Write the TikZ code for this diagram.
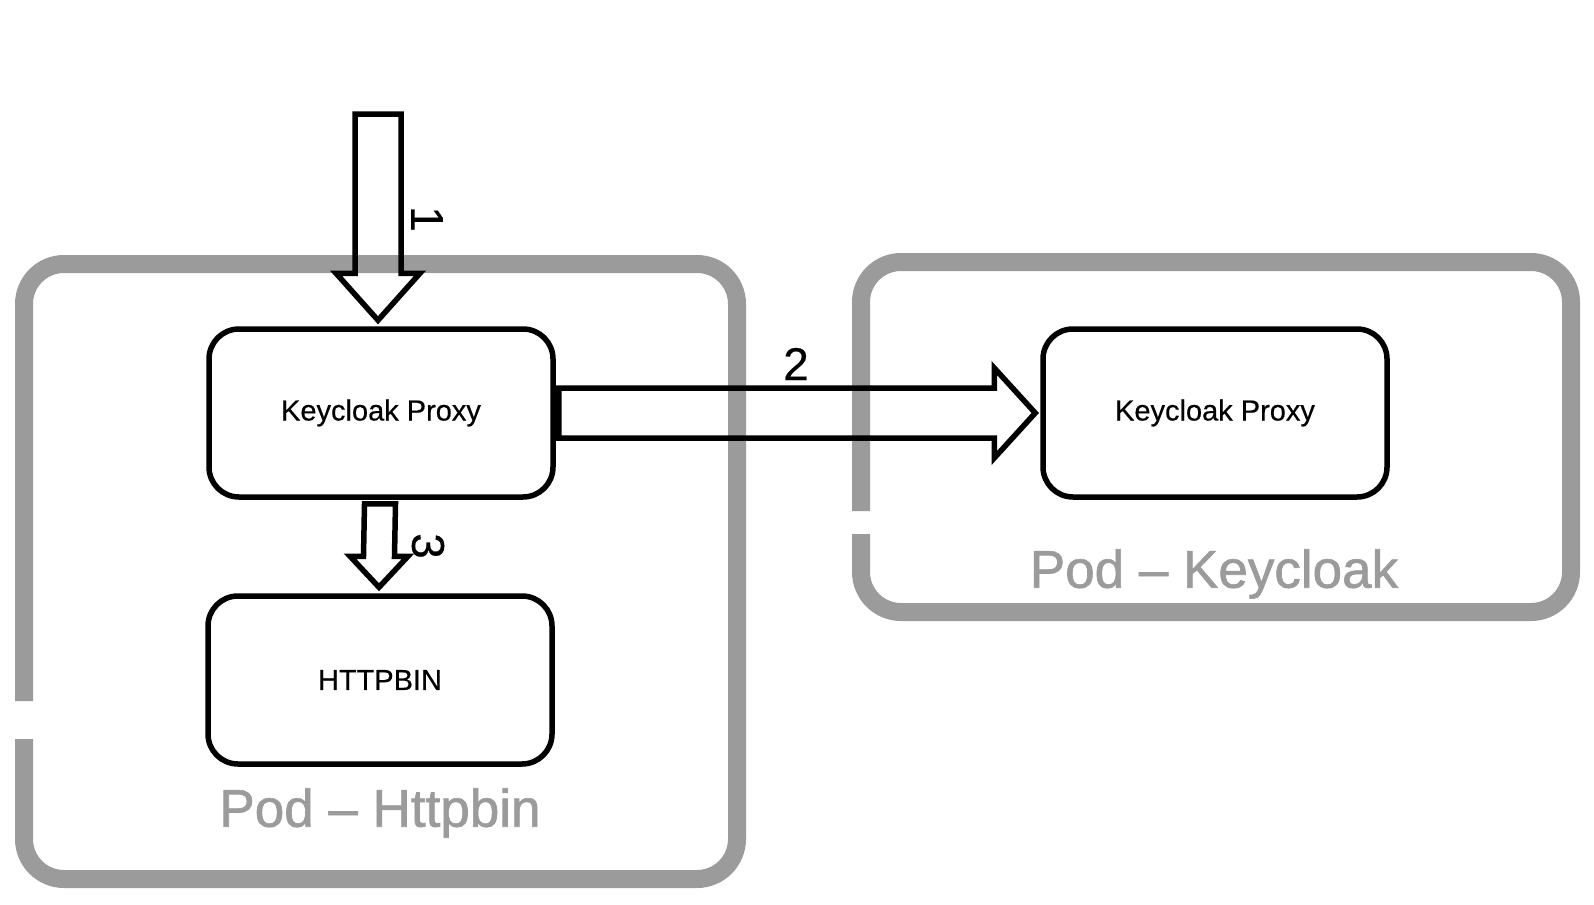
\documentclass[tikz,border=0pt]{standalone}
\usepackage{fontspec}
\setmainfont{Liberation Sans}
\newfontfamily\podfont{Liberation Sans}[FakeBold=1.2]
\newfontfamily\boxfont{Liberation Sans}[FakeBold=0.4]
\usetikzlibrary{positioning,calc}
\definecolor{podGray}{HTML}{9B9B9B}

\begin{document}
\begin{tikzpicture}[
    x=1pt, y=-1pt,
    podline/.style={draw=podGray, line width=18pt, rounded corners=40pt},
    podlabel/.style={text=podGray, font=\podfont\fontsize{53}{60}\selectfont},
    box/.style={draw, line width=5.5pt, rounded corners=30pt, minimum width=344pt, minimum height=168pt, font=\boxfont\fontsize{29}{34}\selectfont},
    blockarrow/.style={draw, line width=5.5pt, line join=miter},
    numlabel/.style={font=\boxfont\fontsize{46}{50}\selectfont, rotate=-90}
  ]
  \useasboundingbox (0,0) rectangle (1594,904);

  % Pods
  \draw[podline] (24,739) -- (24,879) -- (737,879) -- (737,264) -- (24,264) -- (24,701);
  \draw[podline] (861,534) -- (861,612) -- (1571,612) -- (1571,262) -- (861,262) -- (861,511);
  \node[podlabel] (podHttpbin) at (380,813) {Pod – Httpbin};
  \node[podlabel] (podKeycloak) at (1214,574) {Pod – Keycloak};

  % Containers
  \node[box] (proxyA) at (381,413) {Keycloak Proxy};
  \node[box] (httpbin) at (380,680) {HTTPBIN};
  \node[box] (proxyB) at (1215,413) {Keycloak Proxy};

  % 1: incoming request
  \coordinate (tip1) at ($(proxyA.north)+(-3,-6)$);
  \draw[blockarrow] (tip1) -- ++(-42,-47) -- ++(19,0) -- ++(0,-159) -- ++(46,0)
    -- ++(0,159) -- ++(19,0) -- cycle;
  \node[numlabel] (num1) at (427,219) {1};

  % 2: proxy to keycloak
  \coordinate (tip2) at ($(proxyB.west)+(-5,0)$);
  \draw[blockarrow] (tip2) -- ++(-41,-45) -- ++(0,20) -- ($(proxyA.east)+(3,-25)$)
    -- ++(0,50) -- ($(tip2)+(-41,25)$) -- ++(0,20) -- cycle;
  \node[font=\boxfont\fontsize{46}{50}\selectfont] (num2) at (796,364) {2};

  % 3: proxy to httpbin
  \coordinate (tip3) at ($(httpbin.north)+(-1,-6)$);
  \draw[blockarrow] (tip3) -- ++(-29,-31) -- ++(13.5,0) -- ($(proxyA.south)+(-16.5,4)$)
    -- ++(31,0) -- ($(tip3)+(15.5,-31)$) -- ++(13.5,0) -- cycle;
  \node[numlabel] (num3) at (428,546) {3};
\end{tikzpicture}
\end{document}
